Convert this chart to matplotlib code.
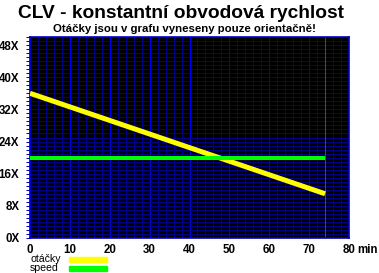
import matplotlib
matplotlib.use("Agg")
import matplotlib.pyplot as plt
import numpy as np

# Data
time_min = [0, 74]
otacky = [36, 11]
speed = [20, 20]
cd_length = 74
x_ticks = [0, 10, 20, 30, 40, 50, 60, 70, 80]
y_ticks = [0, 8, 16, 24, 32, 40, 48]
y_labels = ["0X", "8X", "16X", "24X", "32X", "40X", "48X"]
legend_labels = ["otáčky", "speed"]
title = "CLV - konstantní obvodová rychlost"
subtitle = "Otáčky jsou v grafu vyneseny pouze orientačně!"

W, H = 379, 273
fig = plt.figure(figsize=(W / 100, H / 100), dpi=100)
fig.patch.set_facecolor("white")
L, R, T, B = 30, 349, 37, 238
ax = fig.add_axes([L / W, (H - B) / H, (R - L) / W, (B - T) / H])
ax.set_facecolor("#000000")
ax.set_xlim(0, 80)
ax.set_ylim(0, 50)

font = "Liberation Sans"
ax.set_xticks(x_ticks)
ax.set_xticks(np.arange(0, 81, 2), minor=True)
ax.set_yticks(y_ticks)
ax.set_yticklabels(y_labels)
ax.set_yticks(np.arange(0, 51, 1), minor=True)
ax.set_xticklabels([str(v) for v in x_ticks])

ax.grid(which="minor", axis="x", color="#000088", lw=0.72, snap=True, antialiased=False)
ax.grid(which="major", axis="x", color="#0000FF", lw=0.72, snap=True, antialiased=False)
ax.grid(which="both", axis="y", color="#000088", lw=0.72, snap=True, antialiased=False)
ax.set_axisbelow(True)

ax.tick_params(axis="x", which="both", length=0, pad=4.5, labelsize=8.3)
ax.tick_params(axis="y", which="both", length=2.8, color="#0000C0", width=0.72, pad=5, labelsize=8.3)
for lab in ax.get_xticklabels() + ax.get_yticklabels():
    lab.set_fontfamily(font)
    lab.set_fontweight("bold")
for s in ax.spines.values():
    s.set_color("#0000C0")
    s.set_linewidth(1.2)

ax.axvline(cd_length, color="#FF0000", lw=0.72, zorder=2, snap=True, antialiased=False)
ax.plot(time_min, otacky, color="#FFFF00", lw=3.6, solid_capstyle="butt", zorder=3)
ax.plot(time_min, speed, color="#00FF00", lw=2.9, solid_capstyle="butt", zorder=3)

fig.text(181 / W, 1 - 13 / H, title, ha="center", va="center", fontsize=13.8,
         fontweight="bold", family=font)
fig.text(184 / W, 1 - 29 / H, subtitle, ha="center", va="center", fontsize=8.2,
         fontweight="bold", family=font)
fig.text(357 / W, 1 - 250 / H, "min", ha="left", va="center", fontsize=8.3,
         fontweight="bold", family=font)

colors = ["#FFFF00", "#00FF00"]
ys = [259, 268]
text_ys = [259, 268]
for lab, c, y, ty in zip(legend_labels, colors, ys, text_ys):
    fig.text(30 / W, 1 - ty / H, lab, ha="left", va="center", fontsize=7.6, family=font)
    fig.patches.append(plt.Rectangle((69 / W, 1 - (y + 2.5) / H), 38 / W, 4.5 / H,
                                     transform=fig.transFigure, color=c, figure=fig))

fig.savefig("out.png", dpi=100, facecolor="white")
